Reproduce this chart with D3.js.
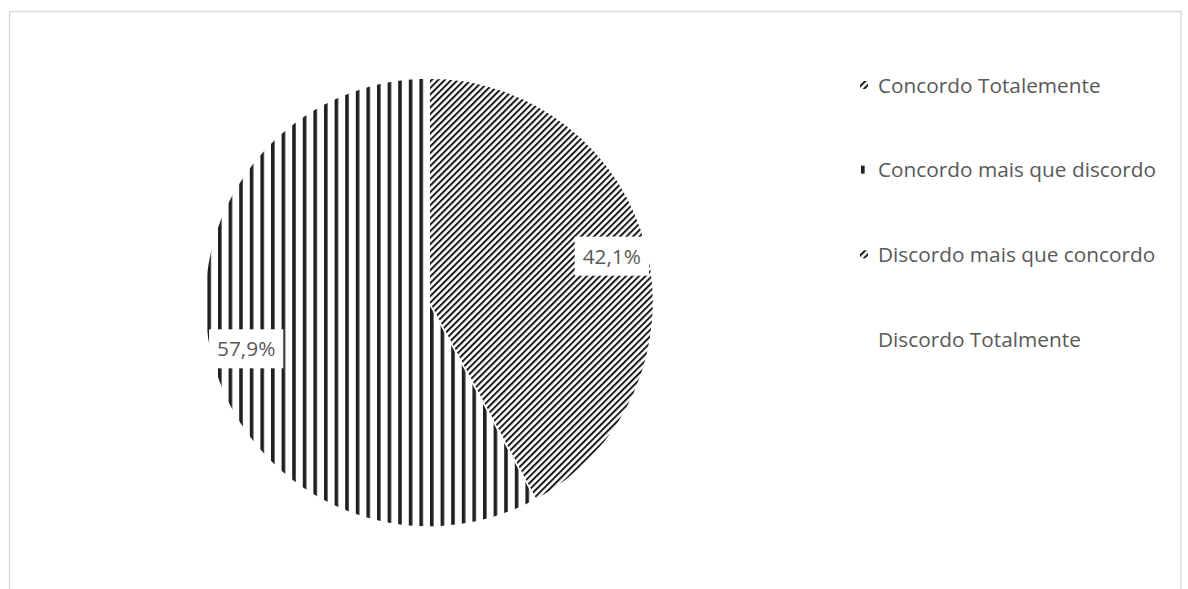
<!DOCTYPE html>
<html>
<head>
<meta charset="utf-8">
<script src="https://cdn.jsdelivr.net/npm/d3@7"></script>
<style>
  html, body { margin: 0; padding: 0; background: #fff; }
  svg { display: block; }
</style>
</head>
<body>
<svg id="chart" width="1188" height="589"></svg>
<script>
const categories = ["Concordo Totalemente", "Concordo mais que discordo", "Discordo mais que concordo", "Discordo Totalmente"];
const values = [42.1, 57.9, 0, 0];
const valueLabels = ["42,1%", "57,9%", "0,0%", "0,0%"];
const patterns = ["diag", "vert", "diag", "blank"];

const W = 1188, H = 589;
const svg = d3.select("#chart");
const defs = svg.append("defs");

// diagonal hatch (lines rising to the right)
const pd = defs.append("pattern").attr("id", "diag").attr("patternUnits", "userSpaceOnUse")
  .attr("width", 10).attr("height", 4.6).attr("patternTransform", "rotate(-45)");
pd.append("rect").attr("x", 0).attr("y", 0).attr("width", 10).attr("height", 2.0).attr("fill", "#1a1a1a");

// vertical stripes
const pv = defs.append("pattern").attr("id", "vert").attr("patternUnits", "userSpaceOnUse")
  .attr("width", 10.6).attr("height", 10).attr("x", 1);
pv.append("rect").attr("x", 0).attr("y", 0).attr("width", 3.6).attr("height", 10).attr("fill", "#1f1f1f");

const pb = defs.append("pattern").attr("id", "blank").attr("patternUnits", "userSpaceOnUse")
  .attr("width", 8).attr("height", 8);
pb.append("rect").attr("width", 8).attr("height", 8).attr("fill", "#fff");

// chart border
svg.append("rect").attr("x", 9.5).attr("y", 11.5).attr("width", 1171.5).attr("height", 600)
  .attr("fill", "none").attr("stroke", "#d9d9d9").attr("stroke-width", 1.5);

const cx = 429, cy = 302.5, r = 224.5;
const pie = d3.pie().sort(null).value(d => d.v);
const data = categories.map((c, i) => ({ c, v: values[i], label: valueLabels[i], pat: patterns[i] }));
const arcs = pie(data);
const arc = d3.arc().innerRadius(0).outerRadius(r);
const labelArc = d3.arc().innerRadius(r * 0.84).outerRadius(r * 0.84);

const g = svg.append("g").attr("transform", `translate(${cx},${cy})`);
g.selectAll("path.slice").data(arcs.filter(a => a.data.v > 0)).join("path")
  .attr("class", "slice")
  .attr("d", arc)
  .attr("fill", d => `url(#${d.data.pat})`)
  .attr("stroke", "#fff").attr("stroke-width", 1.5);

const fontFamily = "'Open Sans', sans-serif";
const fontSize = 20.8;

const lab = g.selectAll("g.lbl").data(arcs.filter(a => a.data.v > 0)).join("g")
  .attr("class", "lbl")
  .attr("transform", d => `translate(${labelArc.centroid(d)})`);
lab.each(function(d) {
  const gg = d3.select(this);
  const t = gg.append("text").attr("text-anchor", "middle").attr("dy", "0.36em")
    .attr("font-family", fontFamily).attr("font-size", fontSize).attr("fill", "#595959")
    .text(d.data.label);
  const bb = t.node().getBBox();
  gg.insert("rect", "text").attr("x", bb.x - 8).attr("y", -19.5).attr("width", bb.width + 16).attr("height", 39)
    .attr("fill", "#fff");
});

// legend
const legendY = d3.scalePoint().domain(categories).range([85, 339]);
const leg = svg.append("g");
const items = leg.selectAll("g").data(data).join("g")
  .attr("transform", d => `translate(860,${legendY(d.c)})`);
items.append("rect").attr("x", 0).attr("y", -4).attr("width", 8).attr("height", 8)
  .attr("fill", d => `url(#${d.pat})`);
items.append("text").attr("x", 18).attr("dy", "0.36em")
  .attr("font-family", fontFamily).attr("font-size", fontSize).attr("fill", "#595959")
  .text(d => d.c);
</script>
</body>
</html>
